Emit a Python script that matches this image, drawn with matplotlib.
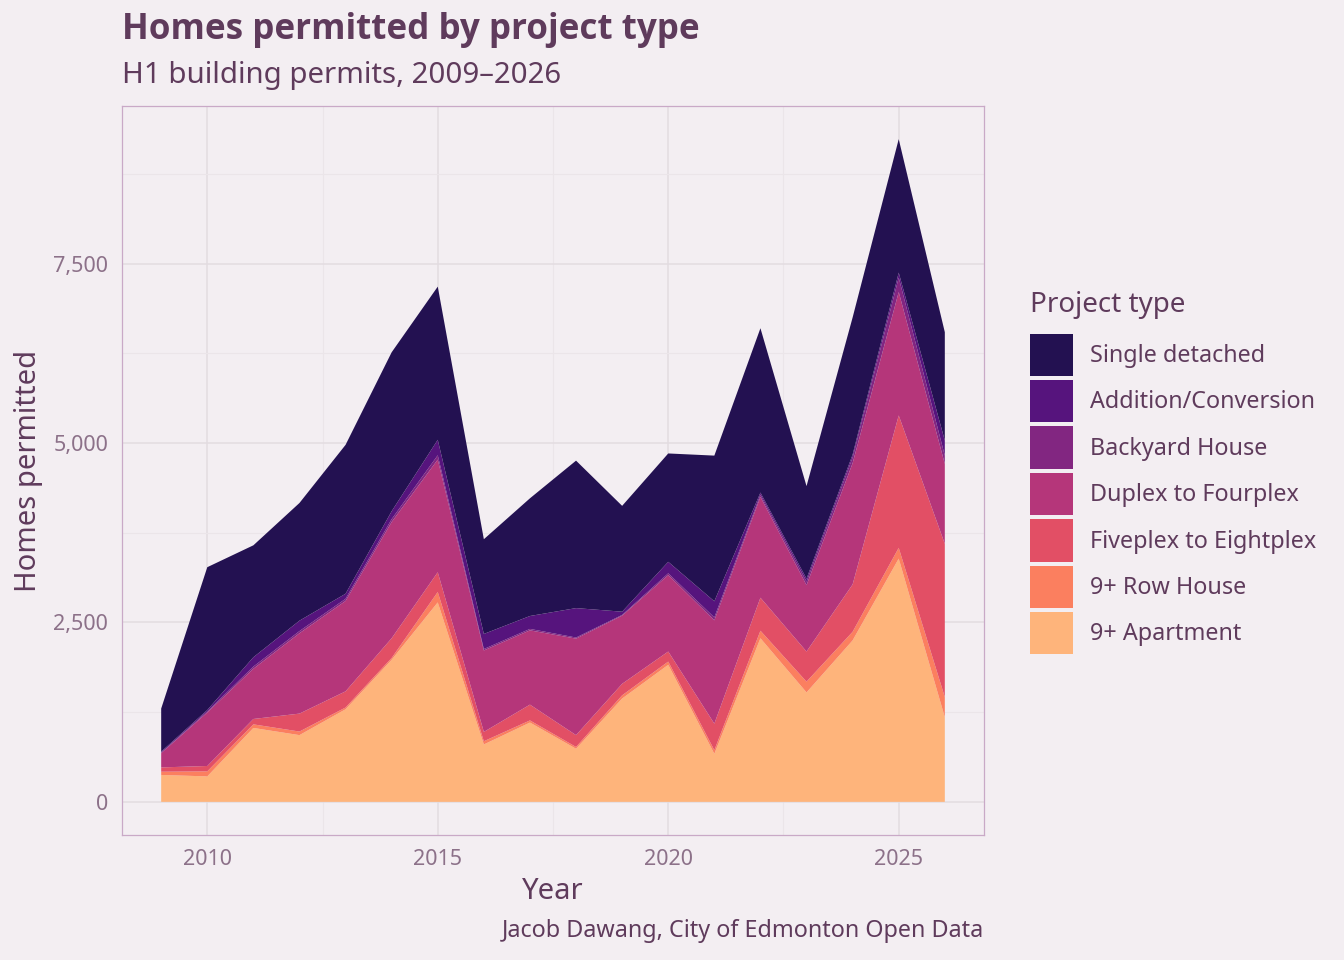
import matplotlib

matplotlib.use("Agg")
import matplotlib.pyplot as plt
from matplotlib.patches import Patch
from matplotlib.ticker import FuncFormatter, MultipleLocator

plt.rcParams["font.family"] = ["Noto Sans", "DejaVu Sans"]

BG = "#f3eef2"
INK = "#5f3b5c"
MUTED = "#8c7189"
GRID = "#e3dce1"
BORDER = "#c9a9c7"

years = list(range(2009, 2027))

# homes permitted per year, by project type
apartment = [375, 355, 1030, 930, 1290, 1980, 2780, 800, 1105, 740, 1440, 1910, 670, 2280, 1525, 2250, 3390, 1180]
row_house = [45, 70, 50, 50, 25, 25, 145, 45, 30, 25, 45, 45, 50, 105, 150, 120, 150, 280]
fiveplex = [60, 75, 75, 250, 225, 275, 275, 130, 220, 165, 160, 140, 370, 460, 420, 660, 1845, 2135]
duplex = [200, 745, 700, 1120, 1260, 1620, 1570, 1135, 1035, 1345, 950, 1065, 1440, 1405, 925, 1690, 1720, 1115]
backyard = [5, 15, 30, 30, 30, 40, 60, 20, 20, 15, 10, 25, 40, 30, 50, 80, 200, 115]
addition = [15, 20, 130, 145, 70, 110, 215, 210, 180, 410, 45, 160, 225, 30, 40, 40, 70, 210]
single = [600, 1990, 1560, 1640, 2075, 2215, 2135, 1320, 1640, 2055, 1475, 1510, 2030, 2290, 1290, 1910, 1860, 1510]

# bottom of the stack first
types = ["9+ Apartment", "9+ Row House", "Fiveplex to Eightplex", "Duplex to Fourplex",
         "Backyard House", "Addition/Conversion", "Single detached"]
colors = ["#feb47b", "#fb7f5f", "#e24f65", "#b5367a", "#822681", "#56147d", "#231151"]
series = [apartment, row_house, fiveplex, duplex, backyard, addition, single]

fig = plt.figure(figsize=(13.44, 9.6), dpi=100, facecolor=BG)
ax = fig.add_axes([122 / 1344, 1 - 835 / 960, (984 - 122) / 1344, (835 - 106) / 960])
ax.set_facecolor(BG)

ax.stackplot(years, *series, colors=colors, linewidth=0, antialiased=True, zorder=2)

totals = [sum(v) for v in zip(*series)]
top = max(totals)
ax.set_xlim(2009 - 0.05 * 17, 2026 + 0.05 * 17)
ax.set_ylim(-0.05 * top, 1.05 * top)

ax.xaxis.set_major_locator(MultipleLocator(5))
ax.xaxis.set_minor_locator(MultipleLocator(2.5))
ax.yaxis.set_major_locator(MultipleLocator(2500))
ax.yaxis.set_minor_locator(MultipleLocator(1250))
ax.yaxis.set_major_formatter(FuncFormatter(lambda v, p: f"{int(v):,}"))
ax.grid(True, which="major", color=GRID, linewidth=1.1, zorder=0)
ax.grid(True, which="minor", color="#ebe5e9", linewidth=0.8, zorder=0)
ax.set_axisbelow(True)
for s in ax.spines.values():
    s.set_color(BORDER)
    s.set_linewidth(0.9)
ax.tick_params(which="both", length=0, labelsize=15.5, labelcolor=MUTED, pad=10)

ax.set_xlabel("Year", fontsize=21, color=INK, labelpad=5)
ax.set_ylabel("Homes permitted", fontsize=21, color=INK, labelpad=7)

fig.text(122 / 1344, 1 - 30 / 960, "Homes permitted by project type", fontsize=25.2,
         family=["Open Sans", "DejaVu Sans"], fontweight="bold", color=INK, va="center", ha="left")
fig.text(122 / 1344, 1 - 76 / 960, "H1 building permits, 2009\u20132026", fontsize=21.2,
         color=INK, va="center", ha="left")
fig.text(984 / 1344, 1 - 931 / 960, "Jacob Dawang, City of Edmonton Open Data", fontsize=16.8,
         color=INK, va="center", ha="right")

handles = [Patch(facecolor=c, edgecolor="none") for c in colors[::-1]]
leg = fig.legend(handles, types[::-1], loc="upper left", bbox_to_anchor=(1030 / 1344, 1 - 291 / 960),
                 frameon=False, fontsize=16.8, title="Project type", title_fontsize=20,
                 handlelength=1.83, handleheight=2.42, labelspacing=0.17, handletextpad=0.73,
                 borderpad=0, borderaxespad=0)
leg._legend_box.align = "left"
leg._legend_box.sep = 10.5
for t in leg.get_texts():
    t.set_color(INK)
leg.get_title().set_color(INK)

fig.savefig("out.png", dpi=100, facecolor=BG)
